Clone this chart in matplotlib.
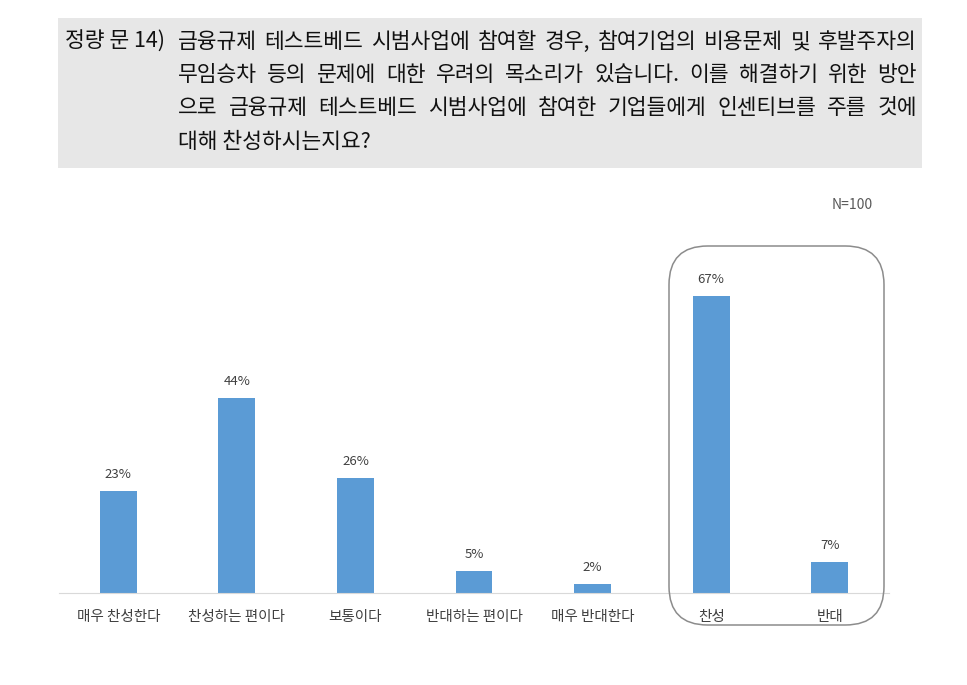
import matplotlib
matplotlib.use('Agg')
import matplotlib.pyplot as plt
from matplotlib.patches import FancyBboxPatch, Rectangle

plt.rcParams['font.family'] = ['Noto Sans CJK KR', 'DejaVu Sans']

# 데이터
categories = ['매우 찬성한다', '찬성하는 편이다', '보통이다', '반대하는 편이다', '매우 반대한다', '찬성', '반대']
values = [23, 44, 26, 5, 2, 67, 7]

question_head = '정량 문 14)'
question_lines = [
    '금융규제 테스트베드 시범사업에 참여할 경우, 참여기업의 비용문제 및 후발주자의',
    '무임승차 등의 문제에 대한 우려의 목소리가 있습니다. 이를 해결하기 위한 방안',
    '으로 금융규제 테스트베드 시범사업에 참여한 기업들에게 인센티브를 주를 것에',
    '대해 찬성하시는지요?',
]

W, H = 967, 685
fig = plt.figure(figsize=(W / 100, H / 100), dpi=100)
renderer = fig.canvas.get_renderer()

# 질문 박스 (회색 배경)
fig.patches.append(Rectangle((58 / W, 1 - 168 / H), (922 - 58) / W, (168 - 18) / H,
                             transform=fig.transFigure, facecolor='#e7e7e7',
                             edgecolor='none', zorder=0))
line_y = [42, 75, 108, 142]
fs = 15.5
fig.text(65 / W, 1 - line_y[0] / H, question_head, fontsize=fs, va='center', color='#111111')

# 양쪽 정렬 (마지막 줄 제외)
x0, x1 = 178, 917
for k, (y, line) in enumerate(zip(line_y, question_lines)):
    words = line.split(' ')
    if k == len(question_lines) - 1:
        fig.text(x0 / W, 1 - y / H, line, fontsize=fs, va='center', color='#111111')
        continue
    texts = [fig.text(0, 1 - y / H, w, fontsize=fs, va='center', color='#111111') for w in words]
    widths = [t.get_window_extent(renderer).width for t in texts]
    gap = (x1 - x0 - sum(widths)) / (len(words) - 1)
    pos = x0
    for t, w in zip(texts, widths):
        t.set_x(pos / W)
        pos += w + gap

# 막대 그래프
ax = fig.add_axes([59 / W, 1 - 593 / H, (889 - 59) / W, 355 / H])
x = range(len(values))
ax.bar(x, values, width=0.31, color='#5b9bd5', zorder=2)
for i, v in enumerate(values):
    ax.text(i, v + 2.2, f'{v}%', ha='center', va='bottom', fontsize=9.5, color='#404040')

ax.set_xlim(-0.5, len(values) - 0.5)
ax.set_ylim(0, 80)
ax.set_xticks(list(x))
ax.set_xticklabels(categories, fontsize=10.5, color='#404040')
ax.tick_params(axis='x', length=0, pad=12)
ax.set_yticks([])
for s in ['top', 'right', 'left']:
    ax.spines[s].set_visible(False)
ax.spines['bottom'].set_color('#d9d9d9')

# 찬성/반대 묶음 박스
fig.patches.append(FancyBboxPatch((669 / W, 1 - 625 / H), (884 - 669) / W, (625 - 246) / H,
                                  boxstyle='round,pad=0,rounding_size=0.04',
                                  transform=fig.transFigure, facecolor='none',
                                  edgecolor='#8c8c8c', linewidth=1.1, zorder=5,
                                  mutation_aspect=W / H))

fig.text(852 / W, 1 - 205 / H, 'N=100', fontsize=10, ha='center', va='center', color='#595959')

fig.savefig('out.png', dpi=100)
